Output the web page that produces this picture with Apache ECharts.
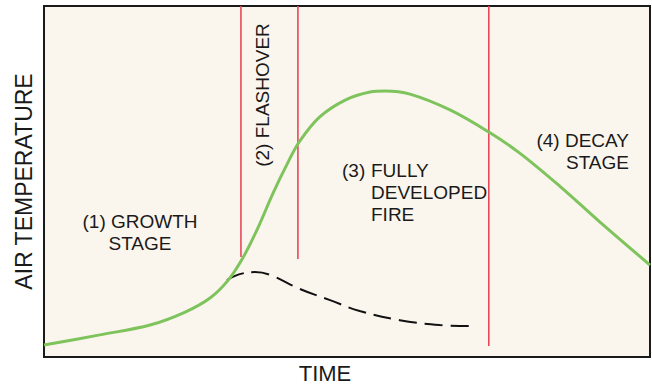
<!DOCTYPE html>
<html>
<head>
<meta charset="utf-8">
<script src="https://cdn.jsdelivr.net/npm/echarts@6/dist/echarts.min.js"></script>
<style>
  html, body { margin: 0; padding: 0; background: #ffffff; }
  #chart { width: 652px; height: 385px; }
</style>
</head>
<body>
<div id="chart"></div>
<script>
// Fire development curve: time (0-100) vs air temperature (0-100), relative units
const fireTime = [0, 9.2, 17.5, 23.3, 27.4, 30.4, 32.8, 35.3, 37.8, 40.3, 42.2, 45.5, 49.7, 53.8, 56.3, 60.4, 67.0, 73.4, 78.5, 85.1, 91.7, 100];
const fireTemp = [3.4, 6.3, 9.1, 12.8, 16.8, 21.9, 28.2, 36.8, 46.7, 55.6, 61.5, 68.4, 73.2, 75.5, 75.8, 74.9, 70.4, 64.1, 58.1, 48.7, 38.5, 26.2];

// Path when flashover does not occur (fire stays fuel-limited and dies down)
const noFlashTime = [30.2, 32.3, 34.8, 37.3, 42.2, 47.2, 52.1, 58.7, 65.3, 70.3];
const noFlashTemp = [21.9, 23.6, 24.2, 23.4, 19.4, 16.2, 13.1, 10.5, 9.1, 8.8];

// Stage boundaries: time position and lower end of each divider
const boundaryTime = [32.5, 41.9, 73.4];
const boundaryLow = [28.5, 27.9, 3.1];

const axisNames = { x: 'TIME', y: 'AIR TEMPERATURE' };
const stageLabels = ['(1) GROWTH\nSTAGE', '(2) FLASHOVER', '(3)', 'FULLY\nDEVELOPED\nFIRE', '(4) DECAY\nSTAGE'];

const zip = (a, b) => a.map((v, i) => [v, b[i]]);

const chart = echarts.init(document.getElementById('chart'), null, { renderer: 'svg' });

const FONT = 'Liberation Sans, Arial, Helvetica, sans-serif';
const textStyle = (extra) => Object.assign({
  fill: '#1a1a1a', font: '19px ' + FONT, lineHeight: 22
}, extra);

const boundarySeries = boundaryTime.map((t, i) => ({
  type: 'line',
  data: [[t, 100], [t, boundaryLow[i]]],
  symbol: 'none',
  lineStyle: { color: '#e8485a', width: 1.6 },
  silent: true,
  z: 2
}));

chart.setOption({
  animation: false,
  backgroundColor: '#ffffff',
  grid: {
    left: 44, right: 2, top: 6, bottom: 28,
    outerBoundsMode: 'none',
    containLabel: false,
    show: true,
    backgroundColor: '#faf6ee',
    borderColor: '#1a1a1a',
    borderWidth: 2
  },
  xAxis: {
    type: 'value', min: 0, max: 100,
    name: axisNames.x, nameLocation: 'middle', nameGap: 6,
    nameTextStyle: {
      fontSize: 22, lineHeight: 20, color: '#1a1a1a', fontFamily: FONT,
      padding: [0, 44, 0, 0]
    },
    axisLine: { show: false }, axisTick: { show: false },
    axisLabel: { show: false }, splitLine: { show: false }
  },
  yAxis: {
    type: 'value', min: 0, max: 100,
    name: axisNames.y, nameLocation: 'middle', nameGap: 9,
    nameTextStyle: { fontSize: 23, color: '#1a1a1a', fontFamily: FONT },
    axisLine: { show: false }, axisTick: { show: false },
    axisLabel: { show: false }, splitLine: { show: false }
  },
  series: [
    ...boundarySeries,
    {
      type: 'line',
      data: zip(noFlashTime, noFlashTemp),
      smooth: 0.4,
      symbol: 'none',
      lineStyle: { color: '#111111', width: 2, type: [18, 8] },
      z: 3
    },
    {
      type: 'line',
      data: zip(fireTime, fireTemp),
      smooth: 0.35,
      symbol: 'none',
      lineStyle: { color: '#7fc35c', width: 3 },
      z: 4
    }
  ],
  graphic: [
    { type: 'text', x: 140, y: 232, style: textStyle({ text: stageLabels[0], textAlign: 'center', textVerticalAlign: 'middle' }) },
    { type: 'text', x: 262, y: 95, rotation: Math.PI / 2, style: textStyle({ text: stageLabels[1], textAlign: 'center', textVerticalAlign: 'middle' }) },
    { type: 'text', x: 342, y: 170, style: textStyle({ text: stageLabels[2], textAlign: 'left', textVerticalAlign: 'middle' }) },
    { type: 'text', x: 371, y: 192, style: textStyle({ text: stageLabels[3], textAlign: 'left', textVerticalAlign: 'middle' }) },
    { type: 'text', x: 629, y: 151, style: textStyle({ text: stageLabels[4], textAlign: 'right', textVerticalAlign: 'middle' }) }
  ]
});
</script>
</body>
</html>
